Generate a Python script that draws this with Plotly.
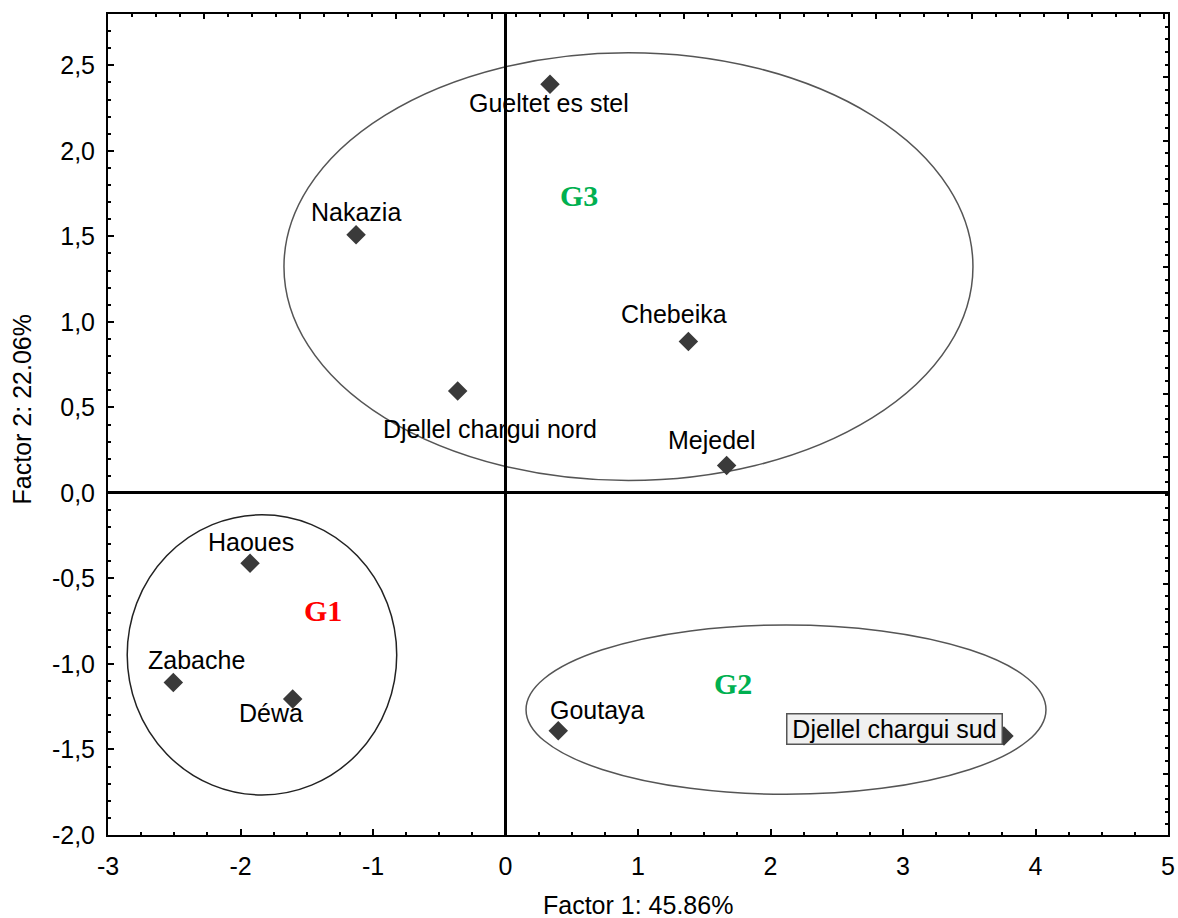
import plotly.graph_objects as go

# ---- data ----
sites = ["Gueltet es stel", "Nakazia", "Chebeika", "Djellel chargui nord", "Mejedel",
         "Haoues", "Zabache", "Déwa", "Goutaya", "Djellel chargui sud"]
factor1 = [0.336, -1.128, 1.380, -0.361, 1.669, -1.928, -2.507, -1.606, 0.398, 3.762]
factor2 = [2.390, 1.509, 0.885, 0.596, 0.160, -0.411, -1.109, -1.205, -1.390, -1.421]

groups = ["G1", "G2", "G3"]
group_cx = [-1.838, 2.117, 0.928]
group_cy = [-0.947, -1.267, 1.323]
group_rx = [1.017, 1.962, 2.600]
group_ry = [0.819, 0.495, 1.251]
group_label_x = [-1.375, 1.717, 0.551]
group_label_y = [-0.686, -1.115, 1.737]

x_ticks = [-3, -2, -1, 0, 1, 2, 3, 4, 5]
x_ticktext = ["-3", "-2", "-1", "0", "1", "2", "3", "4", "5"]
y_ticks = [-2.0, -1.5, -1.0, -0.5, 0.0, 0.5, 1.0, 1.5, 2.0, 2.5]
y_ticktext = ["-2,0", "-1,5", "-1,0", "-0,5", "0,0", "0,5", "1,0", "1,5", "2,0", "2,5"]

x_title = "Factor 1: 45.86%"
y_title = "Factor 2: 22.06%"

# ---- styling (label offsets in px, not data) ----
label_shift = {
    "Gueltet es stel": (-1, -19),
    "Nakazia": (0, 23),
    "Chebeika": (-14, 28),
    "Djellel chargui nord": (32, -38),
    "Mejedel": (-15, 26),
    "Haoues": (1, 21),
    "Zabache": (23, 23),
    "Déwa": (-22, -14),
    "Goutaya": (39, 21),
    "Djellel chargui sud": (-109, 7),
}
group_colors = {"G1": "#ff0000", "G2": "#00b050", "G3": "#00b050"}
ellipse_colors = {"G1": "#222222", "G2": "#555555", "G3": "#555555"}
FONT = "Liberation Sans, Arial, sans-serif"
FS = 25

fig = go.Figure()

# ellipses
for g, cx, cy, rx, ry in zip(groups, group_cx, group_cy, group_rx, group_ry):
    fig.add_shape(type="circle", xref="x", yref="y",
                  x0=cx - rx, x1=cx + rx, y0=cy - ry, y1=cy + ry,
                  line=dict(color=ellipse_colors[g], width=1.5), layer="below")

fig.add_trace(go.Scatter(
    x=factor1, y=factor2, mode="markers",
    marker=dict(symbol="diamond", size=15, color="#3a3a3a"),
    showlegend=False, hoverinfo="skip"))

# dummy trace for the top/right tick axes
fig.add_trace(go.Scatter(x=[], y=[], xaxis="x2", yaxis="y2", showlegend=False))

for name, xv, yv in zip(sites, factor1, factor2):
    dx, dy = label_shift[name]
    kw = {}
    if name == "Djellel chargui sud":
        kw = dict(bgcolor="#f0f0f0", bordercolor="#555555", borderwidth=1.5,
                  borderpad=0, width=214, height=29)
    fig.add_annotation(x=xv, y=yv, xref="x", yref="y", text=name, showarrow=False,
                       xshift=dx, yshift=dy, xanchor="center", yanchor="middle",
                       font=dict(family=FONT, size=FS, color="black"), **kw)

for g, lx, ly in zip(groups, group_label_x, group_label_y):
    fig.add_annotation(x=lx, y=ly, xref="x", yref="y", text="<b>%s</b>" % g,
                       showarrow=False, xanchor="center", yanchor="middle",
                       font=dict(family="Liberation Serif, Times New Roman, serif",
                                 size=30, color=group_colors[g]))

# axis titles
fig.add_annotation(x=0.5, y=-0.085, xref="paper", yref="paper", text=x_title,
                   showarrow=False, xanchor="center", yanchor="middle",
                   font=dict(family=FONT, size=FS, color="black"))
fig.add_annotation(x=-0.081, y=0.5185, xref="paper", yref="paper", text=y_title,
                   showarrow=False, textangle=-90, xanchor="center", yanchor="middle",
                   font=dict(family=FONT, size=FS, color="black"))

fig.update_layout(
    width=1178, height=918,
    margin=dict(l=108, r=10, t=14, b=83),
    plot_bgcolor="white", paper_bgcolor="white",
    font=dict(family=FONT, size=FS, color="black"),
    xaxis=dict(range=[-3, 5], tickvals=x_ticks, ticktext=x_ticktext, automargin=False,
               showgrid=False, zeroline=True, zerolinecolor="black", zerolinewidth=3,
               showline=True, linecolor="black", linewidth=2, mirror=True,
               ticks="inside", ticklen=6, tickwidth=1.5, tickcolor="black",
               minor=dict(dtick=0.25, tick0=-3, ticks="inside", ticklen=3,
                          tickcolor="black", tickwidth=1.5, showgrid=False),
               tickfont=dict(family=FONT, size=FS), ticklabelstandoff=8),
    yaxis=dict(range=[-2, 2.80], tickvals=y_ticks, ticktext=y_ticktext, automargin=False,
               showgrid=False, zeroline=True, zerolinecolor="black", zerolinewidth=3,
               showline=True, linecolor="black", linewidth=2, mirror=True,
               ticks="inside", ticklen=6, tickwidth=1.5, tickcolor="black",
               minor=dict(dtick=0.1, tick0=0, ticks="inside", ticklen=3,
                          tickcolor="black", tickwidth=1.5, showgrid=False),
               tickfont=dict(family=FONT, size=FS), ticklabelstandoff=6),
    xaxis2=dict(overlaying="x", side="top", anchor="y2", range=[0, 1060 / 96],
                automargin=False,
                dtick=1, tick0=0, showticklabels=False, showgrid=False, zeroline=False,
                showline=False, ticks="inside", ticklen=5, tickwidth=1.5, tickcolor="black",
                minor=dict(dtick=0.25, ticks="inside", ticklen=3, tickcolor="black",
                           tickwidth=1.5, showgrid=False)),
    yaxis2=dict(overlaying="y", side="right", anchor="x2", range=[821 / 63.3, 0],
                automargin=False,
                dtick=1, tick0=0, showticklabels=False, showgrid=False, zeroline=False,
                showline=False, ticks="inside", ticklen=5, tickwidth=1.5, tickcolor="black",
                minor=dict(dtick=0.2, ticks="inside", ticklen=3, tickcolor="black",
                           tickwidth=1.5, showgrid=False)),
)

fig.write_html("out.html")
